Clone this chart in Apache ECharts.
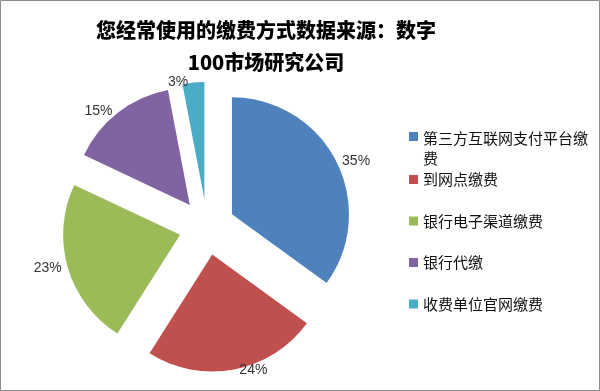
<!DOCTYPE html>
<html><head><meta charset="utf-8">
<script src="https://cdn.jsdelivr.net/npm/echarts@6/dist/echarts.min.js"></script>
<style>html,body{margin:0;padding:0;background:#fff}#c{width:600px;height:391px}</style>
</head><body><div id="c"></div>
<script>
const titleText = '您经常使用的缴费方式数据来源：数字\n100市场研究公司';
const categories = ['第三方互联网支付平台缴费','到网点缴费','银行电子渠道缴费','银行代缴','收费单位官网缴费'];
const values = [35, 24, 23, 15, 3];
const colors = ['#4F81BD','#C0504D','#9BBB59','#8064A2','#4BACC6'];

const chart = echarts.init(document.getElementById('c'), null, {renderer:'canvas'});
const cjk = '"Noto Sans CJK SC", sans-serif';
const legendText = {fontSize:15, fontFamily:cjk, color:'#111', width:168, overflow:'break', lineHeight:20};
chart.setOption({
  animation:false,
  backgroundColor:'#fff',
  color: colors,
  graphic:[{type:'rect', shape:{x:0.5,y:0.5,width:599,height:390}, style:{fill:'none', stroke:'#8c8c8c', lineWidth:1}, silent:true}],
  title:{
    text:titleText, left:261, top:9, textAlign:'center',
    textStyle:{fontSize:20, fontWeight:900, fontFamily:cjk, color:'#000', lineHeight:32}
  },
  legend:[{
    orient:'vertical', left:404, top:123, itemWidth:9, itemHeight:40,
    icon:'path://M0,0h0.01v0.01h-0.01z M0,4h9v9h-9z M0,40h0.01v0.01h-0.01z',
    data:[categories[0]], textStyle:legendText, selectedMode:false
  },{
    orient:'vertical', left:404, top:164.5, itemWidth:9, itemHeight:9, itemGap:21.5,
    icon:'rect', data:categories.slice(1), textStyle:legendText, selectedMode:false
  }],
  series:[{
    type:'pie', center:[207,227], radius:117, startAngle:90, clockwise:true,
    selectedMode:'multiple', selectedOffset:28,
    emphasis:{disabled:true}, avoidLabelOverlap:false,
    label:{show:true, position:'outside', formatter:'{c}%', fontSize:14, fontFamily:'"Liberation Sans", sans-serif', color:'#333'},
    labelLine:{show:false, length:1, length2:0},
    itemStyle:{borderWidth:0},
    data: categories.map((n,i)=>({name:n, value:values[i], selected:true}))
  }]
});
</script></body></html>
